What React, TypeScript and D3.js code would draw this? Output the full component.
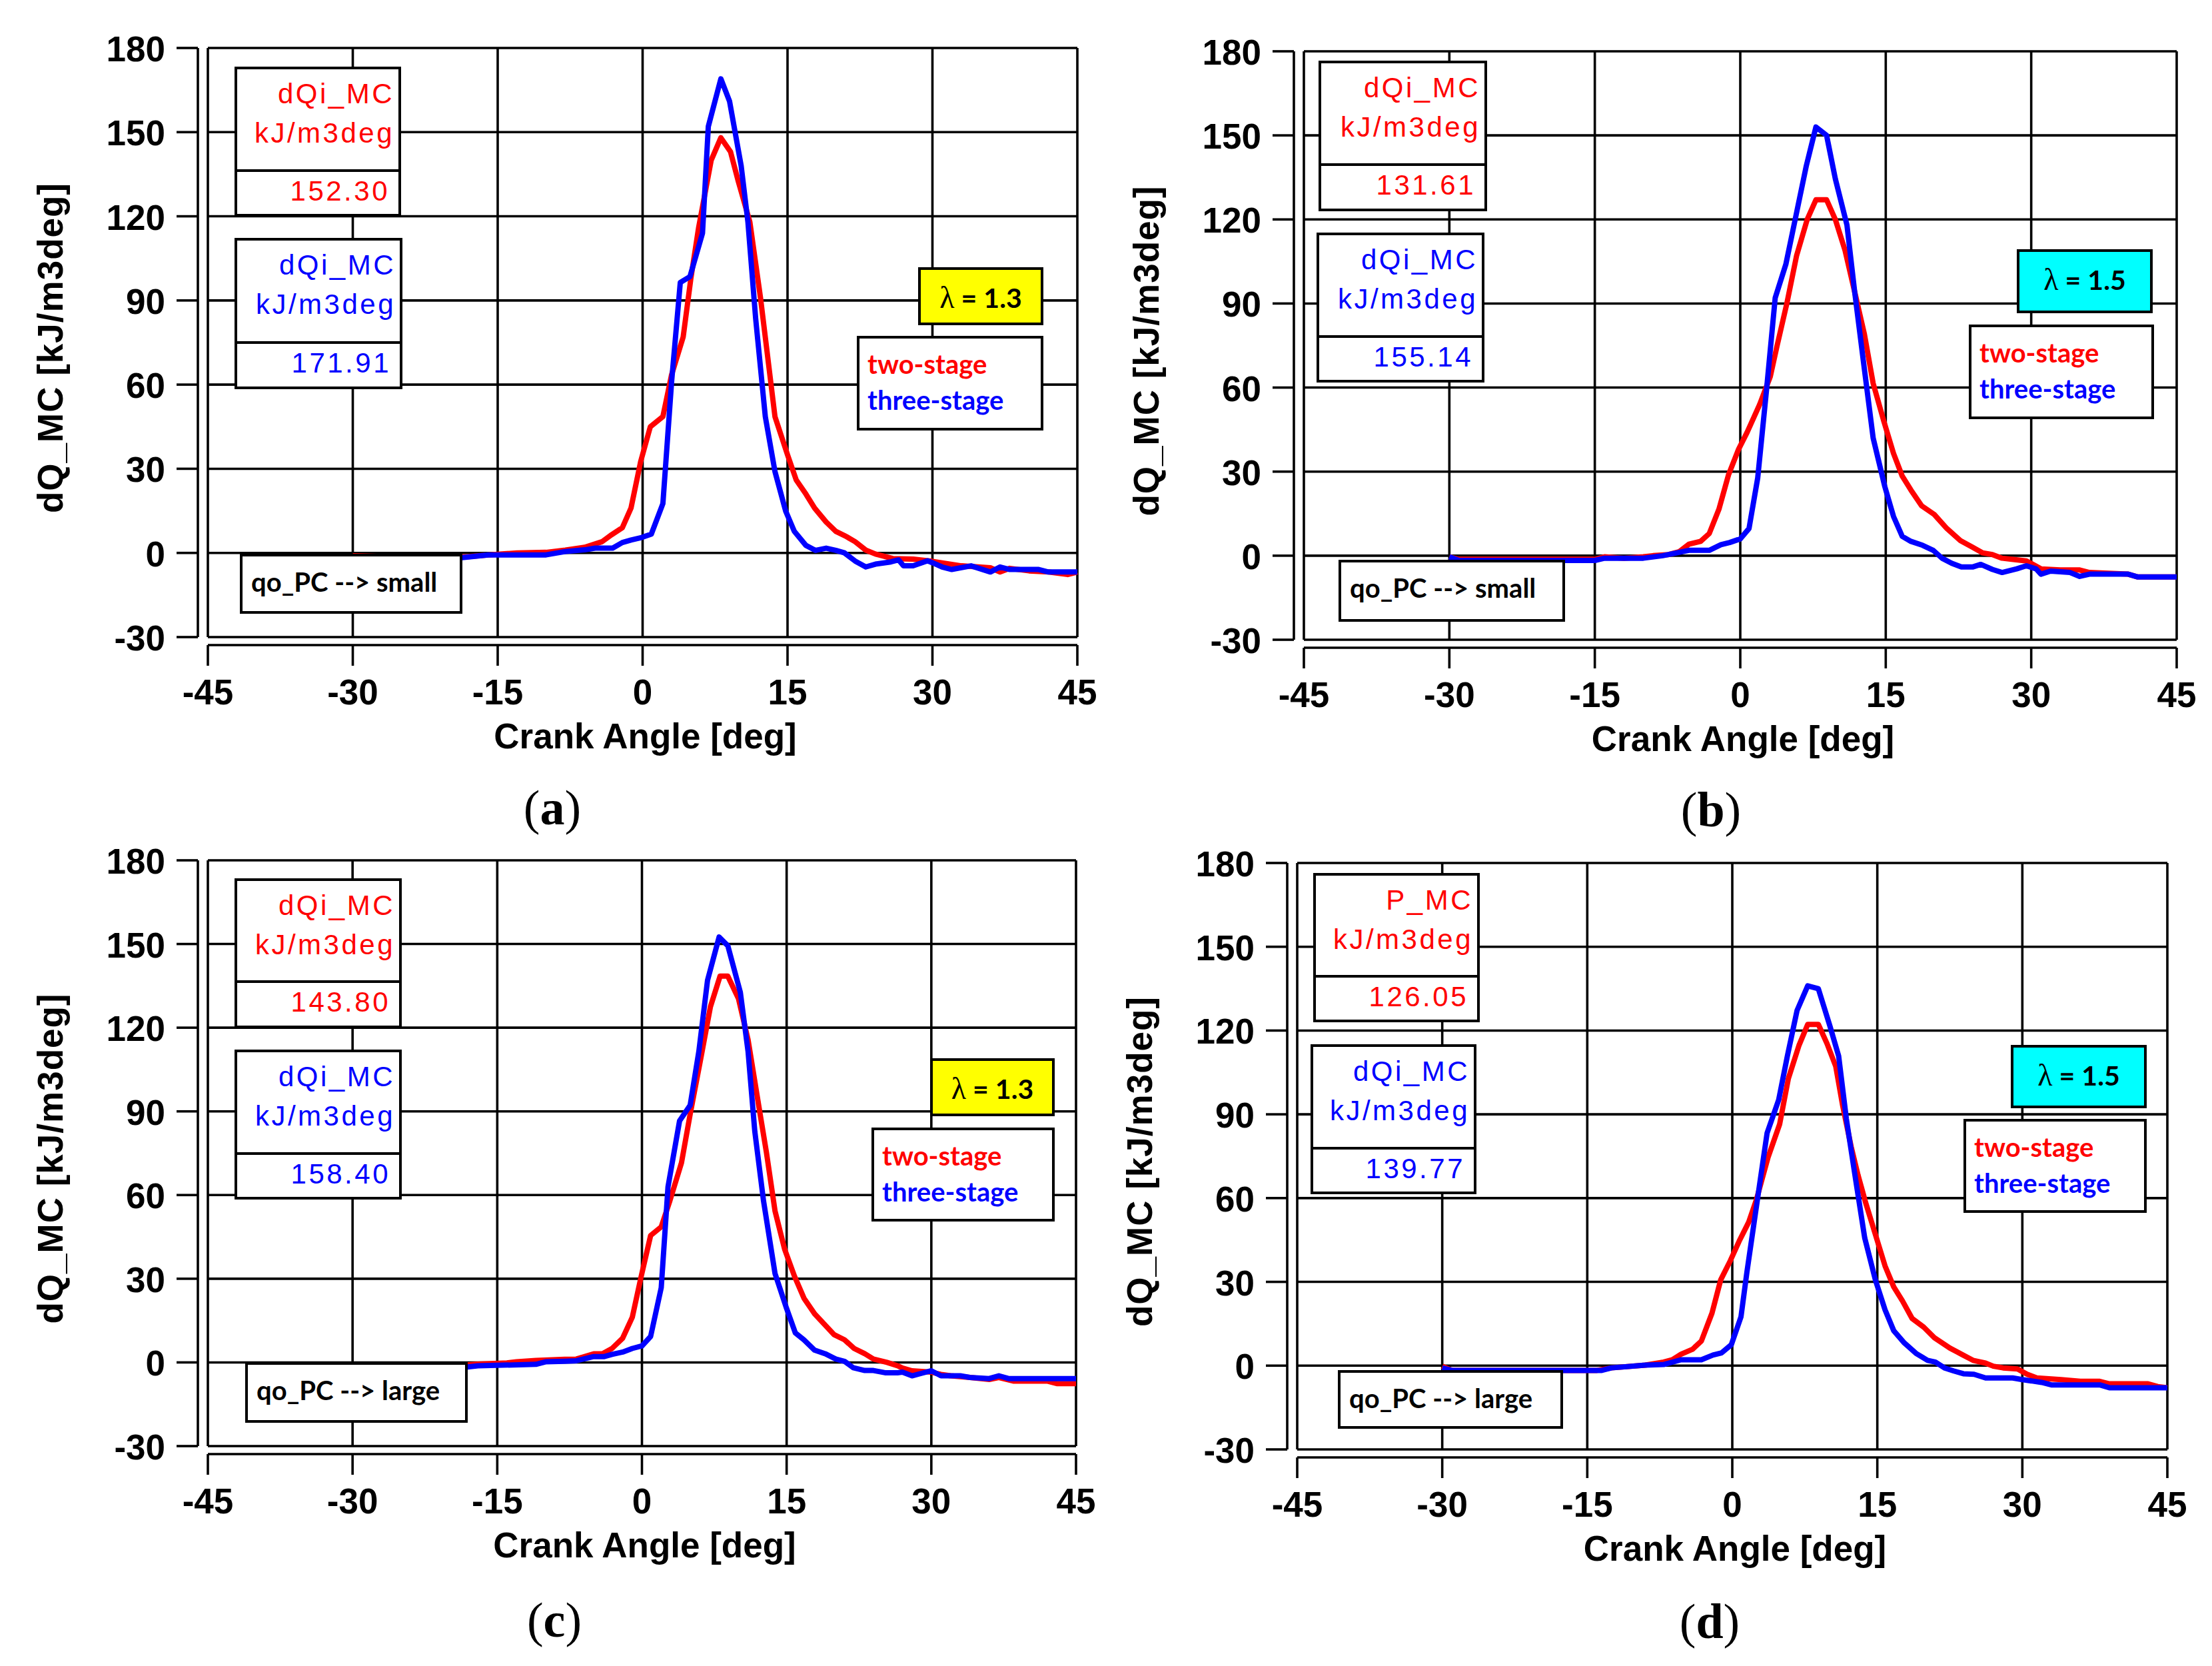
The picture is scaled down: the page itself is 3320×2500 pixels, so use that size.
import React from "react";
import * as d3 from "d3";

// axis ticks
const xTicks = [-45, -30, -15, 0, 15, 30, 45];
const yTicks = [-30, 0, 30, 60, 90, 120, 150, 180];

// [crank angle, dQ_MC]
const twoStageA: [number, number][] = [
  [-30, -1], [-25, -1.5], [-20, -1.5], [-18, -1.3], [-16, -0.7], [-13, 0], [-10, 0.2], [-8, 1], [-6, 2],
  [-4.2, 4], [-3.2, 6.5], [-2.1, 9], [-1.2, 16], [-0.2, 32.6], [0.8, 45], [2.1, 48.6], [3.0, 63.5],
  [4.2, 77], [5.0, 98], [5.8, 116], [7.1, 140], [8.1, 148], [9.1, 143], [9.9, 132.5], [11.1, 118],
  [12.2, 91], [13.7, 48.6], [15.0, 35], [15.9, 26], [16.9, 21], [17.8, 16], [19.0, 11], [20.0, 7.7],
  [21.1, 5.8], [22, 4], [23.1, 1], [24.1, -0.4], [25.9, -2], [28, -2.2], [30, -3], [33, -4.6],
  [36, -5.3], [37, -6.8], [38, -5.5], [40, -6.4], [42, -6.8], [44, -7.7], [45, -6.8],
];
const threeStageA: [number, number][] = [
  [-30, -2], [-25, -2], [-20, -2.5], [-19, -1.8], [-16, -0.7], [-10, -0.7], [-8, 0.5], [-6, 1.1],
  [-4.9, 1.7], [-3.1, 1.7], [-2.1, 3.7], [-1.2, 4.6], [-0.1, 5.5], [0.9, 6.7], [2.1, 17.6], [3.0, 61],
  [3.9, 96.4], [4.9, 98.5], [6.2, 114], [6.8, 152], [8.1, 169], [9.0, 161], [10.2, 138], [10.9, 118],
  [11.7, 83.6], [12.7, 48.6], [13.7, 29], [14.8, 15], [15.7, 7.7], [16.9, 2.7], [17.9, 0.9], [19.0, 1.7],
  [20.0, 0.9], [20.9, 0], [22.0, -2.9], [23.1, -5], [24.1, -4], [25.7, -3.2], [26.5, -2.5], [27, -4.6],
  [28, -4.6], [29.5, -2.8], [30, -3.5], [31, -5], [32, -5.9], [34, -4.6], [36, -6.8], [37, -5],
  [38, -5.9], [41, -5.9], [42, -6.8], [45, -6.8],
];
const twoStageB: [number, number][] = [
  [-30, -0.4], [-29, -1.3], [-20, -1.3], [-15, -1.3], [-14, -0.4], [-12, -0.9], [-10, -0.4], [-9, 0],
  [-7.4, 0.4], [-6.3, 1.4], [-5.3, 4.1], [-4.1, 5.1], [-3.2, 7.9], [-2.2, 16.6], [-1.2, 29], [-0.2, 37.8],
  [0.7, 44], [2.0, 54], [3.1, 64], [3.8, 75], [4.8, 90], [5.8, 107], [6.9, 120], [7.8, 127], [8.9, 127],
  [9.8, 120], [10.8, 109], [11.9, 92.6], [12.8, 79], [13.7, 61.5], [14.8, 48], [15.8, 36.5], [16.7, 28.4],
  [17.6, 23.4], [18.7, 17.8], [20.0, 14.7], [21.3, 9.7], [22.7, 5.4], [23.9, 3.1], [25.0, 1.0], [26, 0.4],
  [27, -0.9], [28, -1.3], [29.5, -1.9], [30, -2.8], [31, -4.7], [33, -5.1], [35, -5.1], [36, -6],
  [40, -6.6], [41, -7.6], [45, -7.6],
];
const threeStageB: [number, number][] = [
  [-30, -0.4], [-29, -1.7], [-15, -1.7], [-14, -0.9], [-10, -0.9], [-8, 0], [-7.4, 0.4], [-5.3, 1.9],
  [-3.2, 1.9], [-2.0, 3.9], [-1.1, 4.7], [0, 6], [0.9, 9.7], [1.8, 27.8], [2.7, 59], [3.6, 92], [4.7, 104],
  [5.6, 119], [6.8, 139], [7.8, 153], [8.9, 150], [9.8, 134.5], [11.0, 118], [11.8, 94], [12.8, 66.5],
  [13.7, 42], [14.9, 24.7], [15.8, 14], [16.7, 6.9], [17.6, 5.1], [18.8, 3.7], [19.9, 1.9], [20.8, -0.9],
  [21.8, -2.7], [22.8, -4], [24.0, -4], [24.8, -3.1], [26, -4.9], [27, -6], [28.5, -4.7], [29.5, -3.6],
  [30.5, -4.7], [31, -6.6], [32, -5.5], [34, -6], [35, -7.4], [36, -6.6], [40, -6.6], [41, -7.6], [45, -7.6],
];
const twoStageC: [number, number][] = [
  [-30, -1], [-20, -1.2], [-19, -1.1], [-17, -0.6], [-14, -0.2], [-13, 0.2], [-11, 0.7], [-8, 1.1],
  [-6.8, 1.2], [-5.0, 3.1], [-4.1, 3.1], [-3.1, 5], [-2.0, 8.7], [-1.0, 16.2], [-0.1, 30.5], [0.9, 45.5],
  [2.0, 48.6], [2.9, 58], [4.1, 71.6], [5.0, 89], [6.1, 109], [7.1, 127.5], [8.1, 138.5], [8.9, 138.5],
  [10.0, 130.5], [11.0, 115.7], [12.1, 92.2], [12.9, 75.4], [13.8, 54.2], [14.8, 40.5], [15.8, 31],
  [16.8, 23], [17.9, 17.4], [18.9, 13.7], [19.9, 10], [21.0, 8.1], [22.0, 5], [23.1, 3.1], [24.0, 1.2],
  [25.4, 0], [26.5, -1.2], [27, -2], [28, -3], [30, -3.5], [31, -4.3], [32, -4.8], [34, -5.4], [36, -6.1],
  [37, -5.4], [38.5, -6.7], [42, -6.7], [43, -7.6], [45, -7.6],
];
const threeStageC: [number, number][] = [
  [-30, -2], [-20, -2], [-19, -2], [-17, -1.2], [-11, -0.7], [-10, 0.2], [-8, 0.4], [-6.8, 0.6],
  [-5.0, 2.1], [-3.9, 2.1], [-3.1, 2.9], [-2.0, 3.7], [-1.0, 5], [0, 5.9], [0.9, 9.3], [2.0, 26.8],
  [2.7, 62.9], [3.9, 86.6], [5.0, 92.2], [5.9, 111.5], [6.8, 137], [8.0, 152.5], [8.9, 149.4], [10.2, 132.7],
  [11.0, 111.5], [11.7, 82.8], [12.6, 58], [13.8, 31.8], [15.0, 19.3], [15.9, 10.6], [16.8, 8.1], [17.9, 4.4],
  [19.0, 3.1], [20.1, 1.2], [21.0, 0.4], [21.9, -1.9], [23.1, -2.9], [24.0, -2.9], [25.2, -3.7], [26.5, -3.7],
  [27, -3.5], [28, -4.8], [29, -3.9], [30, -3], [31, -4.8], [33, -4.8], [34, -5.4], [36, -5.8], [37, -4.8],
  [38, -5.8], [45, -5.8],
];
const twoStageD: [number, number][] = [
  [-30, -0.2], [-29, -1.7], [-14, -1.7], [-12.5, -0.8], [-9, 0.2], [-7.1, 1.3], [-6.2, 2.1], [-5.3, 4.1],
  [-4.1, 5.9], [-3.2, 8.8], [-2.1, 18.8], [-1.2, 30.7], [-0.2, 37.6], [0.7, 44.5], [1.7, 51.4], [2.5, 59.5],
  [3.7, 74.6], [4.9, 86.5], [5.8, 102.8], [6.9, 114.7], [7.8, 122.2], [8.9, 122.2], [9.8, 115.3],
  [10.7, 107.2], [11.4, 93.4], [12.3, 78.3], [13.0, 68.3], [13.8, 58.3], [14.8, 47], [15.8, 35.7],
  [16.7, 28.2], [17.6, 23.2], [18.6, 16.9], [19.8, 13.8], [20.9, 10], [22.5, 6.3], [23.7, 4.1], [24.9, 1.9],
  [26.2, 0.9], [27, -0.2], [28, -0.8], [29.5, -1.2], [30.5, -3.1], [31.5, -4.4], [34, -5], [36, -5.6],
  [38, -5.6], [39, -6.5], [43, -6.5], [44, -7.5], [45, -7.9],
];
const threeStageD: [number, number][] = [
  [-30, -0.8], [-29, -1.7], [-13.5, -1.7], [-12.5, -0.8], [-9, 0.2], [-7.1, 0.4], [-5.3, 2.1], [-3.2, 2.1],
  [-2.0, 3.8], [-1.1, 4.6], [-0.1, 7.5], [0.9, 17.5], [1.5, 33.2], [2.6, 59.5], [3.6, 83.3], [4.8, 95.2],
  [5.7, 110.9], [6.7, 127.2], [7.8, 136], [8.9, 135], [10.1, 121.6], [11.0, 110.9], [11.8, 88.3],
  [12.8, 65.7], [13.7, 45.7], [14.8, 30.7], [15.8, 20], [16.7, 12.5], [17.8, 8.1], [19.0, 4.4], [20.2, 1.9],
  [21.0, 1.3], [22.0, -0.9], [22.9, -1.9], [23.9, -2.9], [25.0, -3.1], [26.2, -4.4], [29, -4.4], [30, -5],
  [32, -6], [33, -6.9], [38, -6.9], [39, -7.9], [45, -7.9],
];

// text boxes
const redBoxA = ["dQi_MC", "kJ/m3deg", "152.30"];
const blueBoxA = ["dQi_MC", "kJ/m3deg", "171.91"];
const redBoxB = ["dQi_MC", "kJ/m3deg", "131.61"];
const blueBoxB = ["dQi_MC", "kJ/m3deg", "155.14"];
const redBoxC = ["dQi_MC", "kJ/m3deg", "143.80"];
const blueBoxC = ["dQi_MC", "kJ/m3deg", "158.40"];
const redBoxD = ["P_MC", "kJ/m3deg", "126.05"];
const blueBoxD = ["dQi_MC", "kJ/m3deg", "139.77"];
const seriesNames = ["two-stage", "three-stage"];

const RED = "#ff0000";
const BLUE = "#0000ff";
const SANS = "'Liberation Sans', Arial, sans-serif";
const LATO = "Lato, 'Open Sans', sans-serif";
const SERIF = "'Liberation Serif', 'DejaVu Serif', serif";
const GRID_W = 3.6;
const BOX_W = 4;

type Rect = [number, number, number, number];
type ValRect = [number, number, number, number, number];

interface PanelDef {
  two: [number, number][];
  three: [number, number][];
  red: string[];
  blue: string[];
  lambda: string;
  lamFill: string;
  qo: string;
  caption: string;
  fx: number; fy: number; w: number; h: number;
  redBox: ValRect; blueBox: ValRect; lamBox: Rect; legBox: Rect; qoBox: Rect;
  cap: [number, number];
}

const panels: PanelDef[] = [
  {
    two: twoStageA, three: threeStageA, red: redBoxA, blue: blueBoxA, lambda: "1.3", lamFill: "#ffff00",
    qo: "qo_PC --> small", caption: "a",
    fx: 312, fy: 72, w: 1305, h: 884,
    redBox: [42, 30, 246, 221, 154], blueBox: [42, 287, 248, 223, 155],
    lamBox: [1068, 331, 184, 83], legBox: [976, 434, 276, 138], qoBox: [50, 761, 330, 86], cap: [829, 1237],
  },
  {
    two: twoStageB, three: threeStageB, red: redBoxB, blue: blueBoxB, lambda: "1.5", lamFill: "#00ffff",
    qo: "qo_PC --> small", caption: "b",
    fx: 1957, fy: 77, w: 1310, h: 883,
    redBox: [24, 16, 249, 222, 154], blueBox: [21, 274, 248, 221, 154],
    lamBox: [1072, 299, 200, 92], legBox: [1000, 412, 274, 138], qoBox: [54, 765, 336, 89], cap: [2568, 1240],
  },
  {
    two: twoStageC, three: threeStageC, red: redBoxC, blue: blueBoxC, lambda: "1.3", lamFill: "#ffff00",
    qo: "qo_PC --> large", caption: "c",
    fx: 312, fy: 1291, w: 1303, h: 879,
    redBox: [42, 29, 247, 221, 153], blueBox: [42, 286, 247, 221, 154],
    lamBox: [1086, 299, 183, 83], legBox: [998, 403, 271, 137], qoBox: [58, 755, 330, 87], cap: [832, 2456],
  },
  {
    two: twoStageD, three: threeStageD, red: redBoxD, blue: blueBoxD, lambda: "1.5", lamFill: "#00ffff",
    qo: "qo_PC --> large", caption: "d",
    fx: 1947, fy: 1295, w: 1306, h: 880,
    redBox: [26, 17, 246, 220, 153], blueBox: [22, 274, 245, 221, 154],
    lamBox: [1073, 275, 200, 91], legBox: [1002, 386, 271, 137], qoBox: [63, 763, 334, 84], cap: [2566, 2458],
  },
];

const ValueBox = ({ box, lines, color }: { box: ValRect; lines: string[]; color: string }) => {
  const [x, y, w, h, div] = box;
  const textStyle = { fontFamily: SANS, fontSize: 42, letterSpacing: 3.5, fill: color };
  return (
    <g transform={`translate(${x},${y})`}>
      <rect width={w} height={h} fill="#fff" stroke="#000" strokeWidth={BOX_W} />
      <line x1={0} x2={w} y1={div} y2={div} stroke="#000" strokeWidth={BOX_W} />
      <text x={w - 8} y={53} textAnchor="end" style={textStyle}>{lines[0]}</text>
      <text x={w - 8} y={112} textAnchor="end" style={textStyle}>{lines[1]}</text>
      <text x={w - 15} y={div + 45} textAnchor="end" style={textStyle}>{lines[2]}</text>
    </g>
  );
};

const Panel = ({ p }: { p: PanelDef }) => {
  const x = d3.scaleLinear().domain([-45, 45]).range([0, p.w]);
  const y = d3.scaleLinear().domain([-30, 180]).range([p.h, 0]);
  const line = d3.line<[number, number]>().x((d) => x(d[0])).y((d) => y(d[1]));
  const axisX = -15;
  const axisY = p.h + 12;
  const [lx, ly, lw, lh] = p.lamBox;
  const [gx, gy, gw, gh] = p.legBox;
  const [qx, qy, qw, qh] = p.qoBox;
  const tickFont = { fontFamily: SANS, fontWeight: "bold", fontSize: 53 };
  return (
    <g>
      <g transform={`translate(${p.fx},${p.fy})`}>
        {/* grid + frame */}
        {yTicks.map((t) => (
          <line key={`gy${t}`} x1={0} x2={p.w} y1={y(t)} y2={y(t)} stroke="#000" strokeWidth={GRID_W} />
        ))}
        {xTicks.map((t) => (
          <line key={`gx${t}`} x1={x(t)} x2={x(t)} y1={0} y2={p.h} stroke="#000" strokeWidth={GRID_W} />
        ))}
        {/* y axis */}
        <line x1={axisX} x2={axisX} y1={y(180)} y2={y(-30)} stroke="#000" strokeWidth={GRID_W} />
        {yTicks.map((t) => (
          <g key={`ty${t}`}>
            <line x1={axisX - 32} x2={axisX} y1={y(t)} y2={y(t)} stroke="#000" strokeWidth={GRID_W} />
            <text x={-64} y={y(t) + 20} textAnchor="end" style={tickFont}>{t}</text>
          </g>
        ))}
        {/* x axis */}
        <line x1={0} x2={p.w} y1={axisY} y2={axisY} stroke="#000" strokeWidth={GRID_W} />
        {xTicks.map((t) => (
          <g key={`tx${t}`}>
            <line x1={x(t)} x2={x(t)} y1={axisY} y2={axisY + 31} stroke="#000" strokeWidth={GRID_W} />
            <text x={x(t)} y={p.h + 101} textAnchor="middle" style={tickFont}>{t}</text>
          </g>
        ))}
        <text x={p.w / 2 + 4} y={p.h + 167} textAnchor="middle" style={tickFont}>Crank Angle [deg]</text>
        <text transform={`translate(-218,${p.h / 2 + 8}) rotate(-90)`} textAnchor="middle"
          style={{ ...tickFont, letterSpacing: 1 }}>dQ_MC [kJ/m3deg]</text>

        {/* curves */}
        <path d={line(p.two) ?? ""} fill="none" stroke={RED} strokeWidth={8} strokeLinejoin="round" />
        <path d={line(p.three) ?? ""} fill="none" stroke={BLUE} strokeWidth={8} strokeLinejoin="round" />

        {/* boxes */}
        <ValueBox box={p.redBox} lines={p.red} color={RED} />
        <ValueBox box={p.blueBox} lines={p.blue} color={BLUE} />

        <rect x={lx} y={ly} width={lw} height={lh} fill={p.lamFill} stroke="#000" strokeWidth={BOX_W} />
        <text x={lx + lw / 2} y={ly + 59} textAnchor="middle"
          style={{ fontFamily: LATO, fontWeight: "bold", fontSize: 41 }}>
          <tspan style={{ fontFamily: SERIF, fontWeight: "normal", fontSize: 46 }}>λ</tspan>
          <tspan> = {p.lambda}</tspan>
        </text>

        <rect x={gx} y={gy} width={gw} height={gh} fill="#fff" stroke="#000" strokeWidth={BOX_W} />
        <text x={gx + 14} y={gy + 55} style={{ fontFamily: LATO, fontWeight: "bold", fontSize: 40, fill: RED }}>
          {seriesNames[0]}
        </text>
        <text x={gx + 14} y={gy + 109} style={{ fontFamily: LATO, fontWeight: "bold", fontSize: 40, fill: BLUE }}>
          {seriesNames[1]}
        </text>

        <rect x={qx} y={qy} width={qw} height={qh} fill="#fff" stroke="#000" strokeWidth={BOX_W} />
        <text x={qx + 15} y={qy + 55} style={{ fontFamily: LATO, fontWeight: "bold", fontSize: 40 }}>
          {p.qo}
        </text>
      </g>
      <text x={p.cap[0]} y={p.cap[1]} textAnchor="middle" style={{ fontFamily: SERIF, fontSize: 74 }}>
        (<tspan fontWeight="bold">{p.caption}</tspan>)
      </text>
    </g>
  );
};

export default function App() {
  return (
    <svg width={3320} height={2500} viewBox="0 0 3320 2500"
      style={{ position: "absolute", left: 0, top: 0, background: "#fff" }}>
      <rect width={3320} height={2500} fill="#fff" />
      {panels.map((p) => (
        <Panel key={p.caption} p={p} />
      ))}
    </svg>
  );
}
